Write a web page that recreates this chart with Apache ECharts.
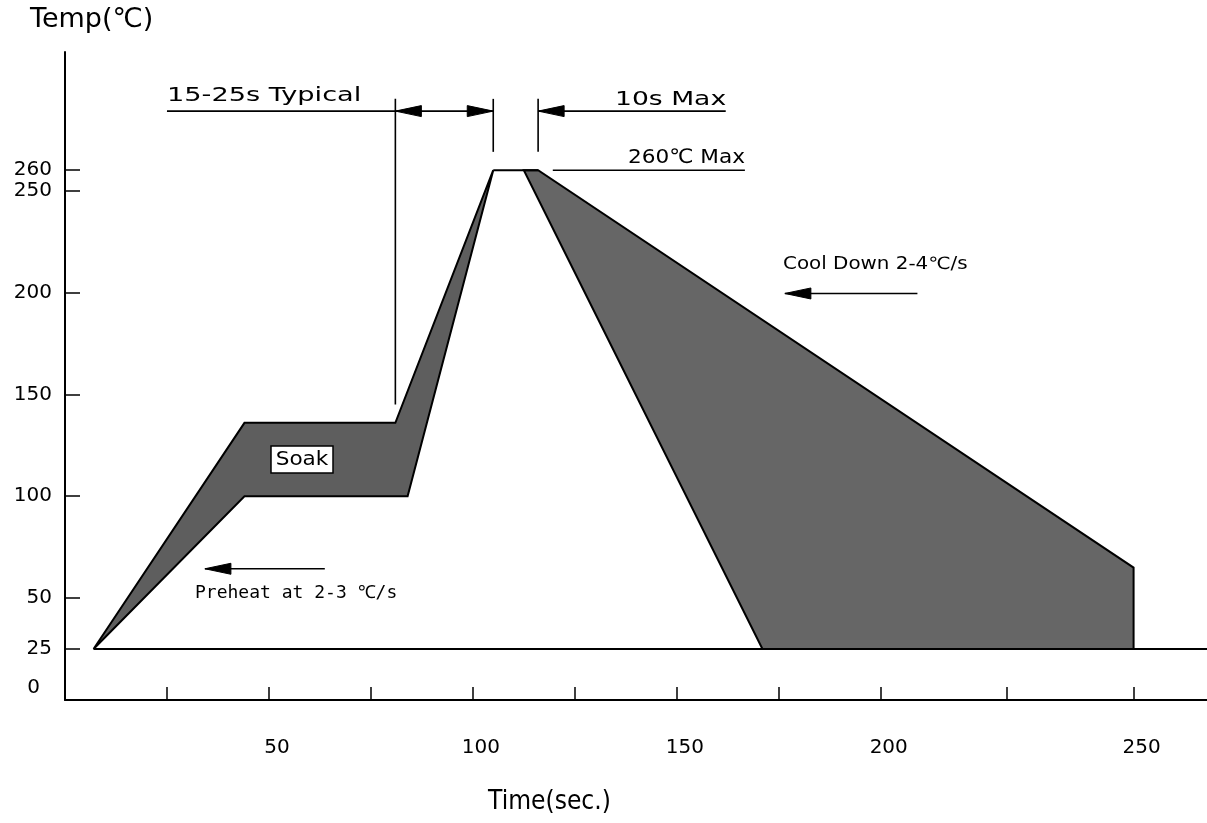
<!DOCTYPE html>
<html>
<head>
<meta charset="utf-8">
<script src="https://cdn.jsdelivr.net/npm/echarts@6/dist/echarts.min.js"></script>
<style>
html,body{margin:0;padding:0;background:#fff;}
#chart{width:1207px;height:823px;}
</style>
</head>
<body>
<div id="chart"></div>
<script>
// ---- data (time in s, temperature in °C) ----
const xTickValues = [25, 50, 75, 100, 125, 150, 175, 200, 231, 262];
const xLabelValues = [50, 100, 150, 200, 262];
const xLabelText = ['50', '100', '150', '200', '250'];
const yTickValues = [25, 50, 100, 150, 200, 250, 260];
const yLabelValues = [0, 25, 50, 100, 150, 200, 250, 260];

// heating band: upper edge then lower edge back
const heatBand = [[7, 25], [44, 136], [81, 136], [105, 260], [84, 100], [44, 100]];
// cooling band
const coolBand = [[112.5, 260], [116, 260], [262, 65], [262, 25], [171, 25]];
const peakPlateau = [[105, 260], [116, 260]];
const baseline = [[7, 25], [280, 25]];
// dimension / arrow lines: [t1, T1, t2, T2, headAtStart, headAtEnd]
const dimLines = [
  [81, 295, 81, 145, 0, 0],
  [105, 295, 105, 269, 0, 0],
  [116, 295, 116, 269, 0, 0],
  [25, 289, 81, 289, 0, 0],
  [81, 289, 105, 289, 1, 1],
  [162, 289, 116, 289, 0, 1],
  [119.6, 260, 166.7, 260, 0, 0],
  [209, 199.5, 176.5, 199.5, 0, 1],
  [63.7, 64.4, 34.3, 64.4, 0, 1]
];

const chart = echarts.init(document.getElementById('chart'), null, {renderer: 'canvas'});
const FONT = "'DejaVu Sans', 'Noto Sans CJK KR', sans-serif";

function arrowHead(tip, tail) {
  const dx = tip[0] - tail[0], dy = tip[1] - tail[1];
  const len = Math.sqrt(dx * dx + dy * dy) || 1;
  const ux = dx / len, uy = dy / len;
  const L = 26, W = 5.5;
  const bx = tip[0] - ux * L, by = tip[1] - uy * L;
  return {
    type: 'polygon',
    shape: {points: [tip, [bx - uy * W, by + ux * W], [bx + uy * W, by - ux * W]]},
    style: {fill: '#000', stroke: '#000', lineWidth: 1}
  };
}

function txt(x, y, text, font, sx, align) {
  return {type: 'text', x: x, y: y, scaleX: sx || 1, z: 20,
    style: {text: text, font: font, fill: '#000', align: align || 'left', verticalAlign: 'middle'}};
}

const option = {
  animation: false,
  backgroundColor: '#fff',
  grid: {left: 65, right: 0, top: 52, bottom: 123, containLabel: false},
  xAxis: {
    type: 'value', min: 0, max: 280,
    axisLine: {show: true, onZero: false, lineStyle: {color: '#000', width: 2}},
    axisTick: {show: true, inside: true, length: 13, customValues: xTickValues, lineStyle: {color: '#000', width: 1.5}},
    axisLabel: {
      customValues: xLabelValues,
      formatter: function (v) { const i = xLabelValues.indexOf(v); return i >= 0 ? xLabelText[i] : ''; },
      margin: 38, color: '#000', fontFamily: FONT, fontSize: 20, padding: [0, 0, 0, 16]
    },
    splitLine: {show: false}
  },
  yAxis: {
    type: 'value', min: 0, max: 318,
    axisLine: {show: true, onZero: false, lineStyle: {color: '#000', width: 2}},
    axisTick: {show: true, inside: true, length: 15, customValues: yTickValues, lineStyle: {color: '#000', width: 1.5}},
    axisLabel: {
      customValues: yLabelValues,
      formatter: function (v) { return v === 0 ? '{z|0}' : String(v); },
      margin: 13, color: '#000', fontFamily: FONT, fontSize: 20,
      rich: {z: {fontFamily: FONT, fontSize: 20, color: '#000', padding: [0, 12, 24, 0]}}
    },
    splitLine: {show: false}
  },
  series: [
    {
      type: 'custom', silent: true, data: [0],
      renderItem: function (params, api) {
        return {type: 'polygon', shape: {points: heatBand.map(p => api.coord(p))},
          style: {fill: '#5e5e5e', stroke: '#000', lineWidth: 2, lineJoin: 'miter'}};
      },
      z: 2
    },
    {
      type: 'custom', silent: true, data: [0],
      renderItem: function (params, api) {
        return {type: 'polygon', shape: {points: coolBand.map(p => api.coord(p))},
          style: {fill: '#666666', stroke: '#000', lineWidth: 2, lineJoin: 'miter'}};
      },
      z: 2
    },
    {
      type: 'line', data: peakPlateau, showSymbol: false, silent: true,
      lineStyle: {color: '#000', width: 2}, z: 3
    },
    {
      type: 'line', data: baseline, showSymbol: false, silent: true,
      lineStyle: {color: '#000', width: 2}, z: 3
    },
    {
      type: 'custom', silent: true, data: dimLines,
      encode: {x: [0, 2], y: [1, 3]},
      renderItem: function (params, api) {
        const p1 = api.coord([api.value(0), api.value(1)]);
        const p2 = api.coord([api.value(2), api.value(3)]);
        const children = [{type: 'line', shape: {x1: p1[0], y1: p1[1], x2: p2[0], y2: p2[1]},
          style: {stroke: '#000', lineWidth: 1.6}}];
        if (api.value(4)) children.push(arrowHead(p1, p2));
        if (api.value(5)) children.push(arrowHead(p2, p1));
        return {type: 'group', children: children};
      },
      z: 4
    }
  ],
  graphic: [
    txt(30, 20, 'Temp(℃)', "27px " + FONT, 1),
    txt(488, 802, 'Time(sec.)', "27px " + FONT, 0.87),
    txt(167, 96, '15-25s Typical', "20px " + FONT, 1.36),
    txt(615, 100, '10s Max', "20px " + FONT, 1.33),
    txt(628, 158, '260℃ Max', "20px " + FONT, 1.08),
    txt(783, 265, 'Cool Down 2-4℃/s', "17px " + FONT, 1.17),
    txt(195, 593, 'Preheat at 2-3 ℃/s', "18px 'DejaVu Sans Mono', monospace", 1),
    {type: 'rect', shape: {x: 271, y: 446, width: 62, height: 27}, style: {fill: '#fff', stroke: '#000', lineWidth: 1.5}, z: 10},
    {type: 'text', x: 302, y: 460, scaleX: 1.08, z: 11,
      style: {text: 'Soak', font: "20px " + FONT, fill: '#000', align: 'center', verticalAlign: 'middle'}}
  ]
};
chart.setOption(option);
</script>
</body>
</html>
